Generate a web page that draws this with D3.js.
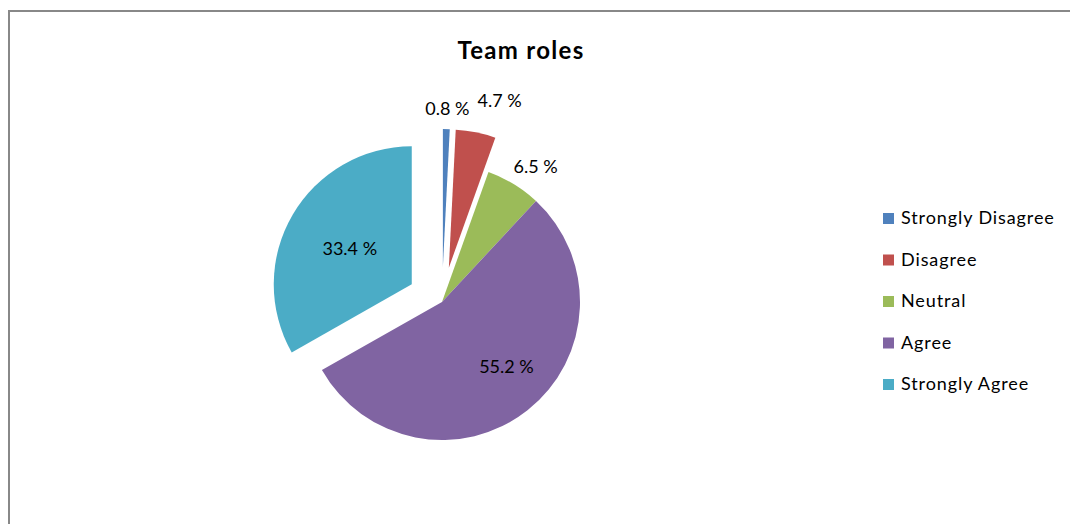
<!DOCTYPE html>
<html>
<head>
<meta charset="utf-8">
<script src="https://cdn.jsdelivr.net/npm/d3@7"></script>
<style>
  body { margin: 0; background: #fff; }
  text { font-family: Lato, "Open Sans", sans-serif; fill: #000; }
</style>
</head>
<body>
<div id="chart"></div>
<script>
// data
const categories = ["Strongly Disagree", "Disagree", "Neutral", "Agree", "Strongly Agree"];
const values = [0.8, 4.7, 6.5, 55.2, 33.4];
const colors = ["#4F81BD", "#C0504D", "#9BBB59", "#8064A2", "#4BACC6"];
const exploded = [true, true, false, false, true];

const width = 1070, height = 524;
const cx = 442, cy = 302, r = 138, explode = 35;

const svg = d3.select("#chart").append("svg")
    .attr("width", width)
    .attr("height", height);

// chart area border (only left + top are in view)
svg.append("rect")
    .attr("x", 9).attr("y", 11)
    .attr("width", width + 20).attr("height", height + 20)
    .attr("fill", "none")
    .attr("stroke", "#888")
    .attr("stroke-width", 2);

svg.append("text")
    .attr("x", 521).attr("y", 59)
    .attr("text-anchor", "middle")
    .style("font-size", "24px")
    .style("font-weight", "bold")
    .style("letter-spacing", "1.3px")
    .text("Team roles");

const pie = d3.pie().sort(null).value(d => d);
const arcs = pie(values);
const arc = d3.arc().innerRadius(0).outerRadius(r);

const midAngle = d => (d.startAngle + d.endAngle) / 2;

function offset(d, i) {
    const a = midAngle(d);
    const k = exploded[i] ? explode : 0;
    return [Math.sin(a) * k, -Math.cos(a) * k];
}

const g = svg.append("g").attr("transform", `translate(${cx},${cy})`);

g.selectAll("path")
    .data(arcs)
    .enter().append("path")
    .attr("transform", (d, i) => "translate(" + offset(d, i) + ")")
    .attr("d", arc)
    .attr("fill", (d, i) => colors[i]);

// labels: big slices inside, small ones just outside the arc
const labels = g.selectAll("text")
    .data(arcs)
    .enter().append("text")
    .attr("text-anchor", "middle")
    .attr("dy", "0.35em")
    .style("font-size", "18px")
    .text(d => d.value + " %");

let prev = null;
labels.each(function(d, i) {
    const a = midAngle(d);
    const o = offset(d, i);
    const w = this.getComputedTextLength();
    let x, y;
    if (d.value > 20) {
        const k = exploded[i] ? 0.52 : 0.66;
        x = o[0] + Math.sin(a) * r * k + (exploded[i] ? 0 : 8);
        y = o[1] - Math.cos(a) * r * k - (exploded[i] ? 0 : 7);
    } else {
        const R = r + 20;
        x = o[0] + Math.sin(a) * R + Math.sin(a) * w / 2;
        y = o[1] - Math.cos(a) * R;
        // push apart from the previous small label if they collide
        if (prev && Math.abs(prev.y - y) < 20 && x - w / 2 < prev.x + prev.w / 2 + 8) {
            x = prev.x + prev.w / 2 + 8 + w / 2;
            y -= 12;
        }
        prev = {x: x, y: y, w: w};
    }
    d3.select(this).attr("x", x).attr("y", y);
});

// legend
const legend = svg.append("g").attr("transform", "translate(883,224)");
const row = legend.selectAll("g")
    .data(categories)
    .enter().append("g")
    .attr("transform", (d, i) => `translate(0,${i * 41.5})`);

row.append("rect")
    .attr("x", 0).attr("y", -11)
    .attr("width", 11).attr("height", 11)
    .attr("fill", (d, i) => colors[i]);

row.append("text")
    .attr("x", 18)
    .style("font-size", "18px")
    .style("letter-spacing", "0.9px")
    .text(d => d);
</script>
</body>
</html>
